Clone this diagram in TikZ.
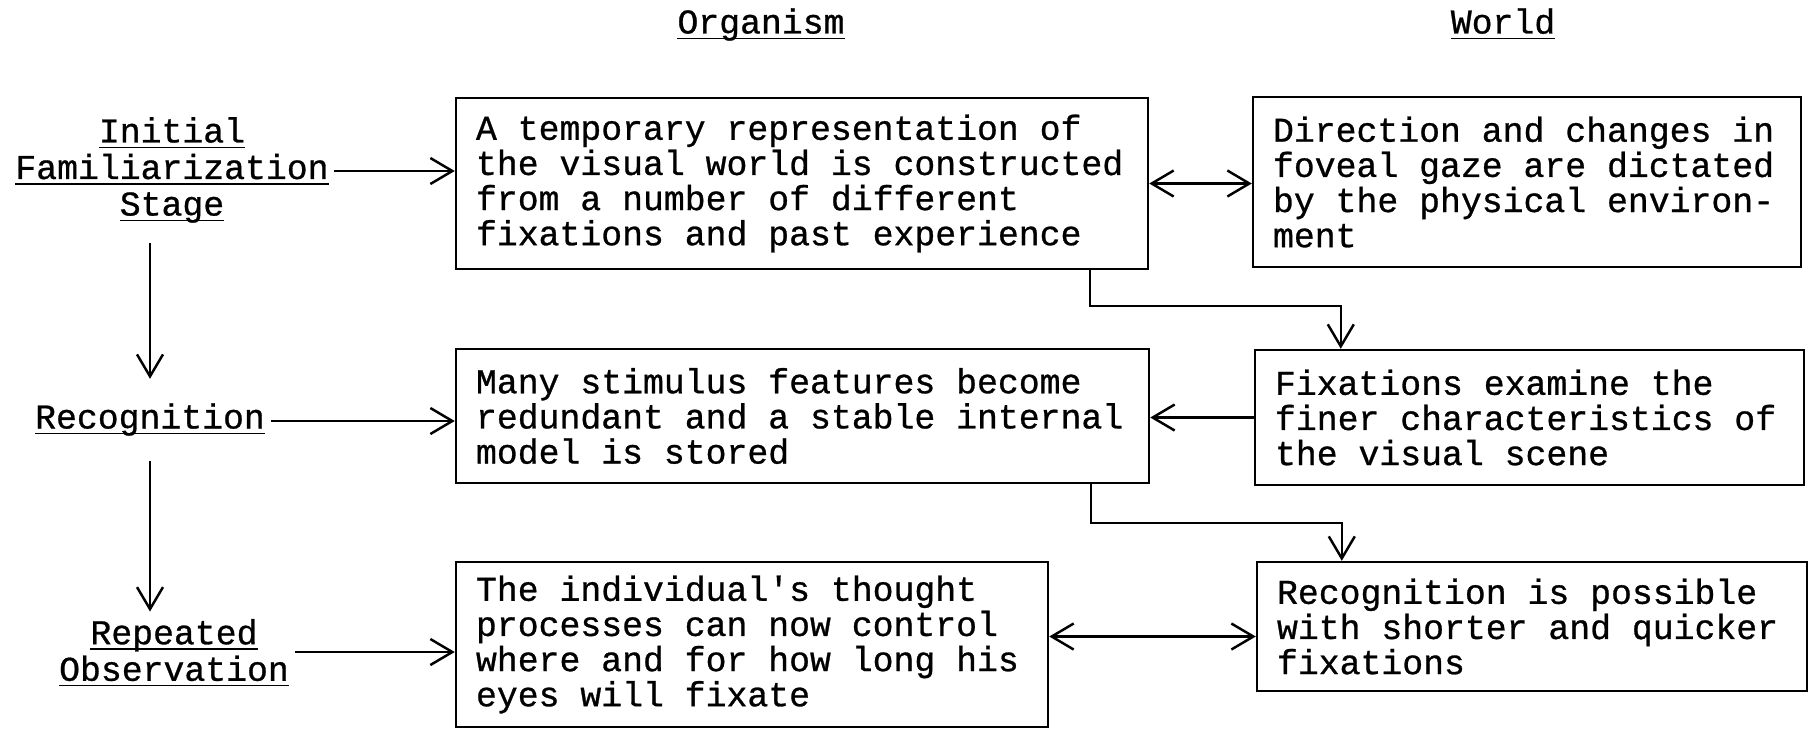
\documentclass[tikz,border=0pt]{standalone}
\usepackage{fontspec}
\setmainfont{Liberation Mono}[FakeBold=0.8]
\usetikzlibrary{arrows.meta,positioning}
\newcommand{\ulabel}[1]{\underline{\smash{#1}}}
\newcommand{\boxfont}{\fontsize{9.9}{10}\selectfont}

\begin{document}
\begin{tikzpicture}[
  box/.style={rectangle, draw, line width=0.7pt, align=flush left, inner xsep=2mm, inner ysep=0pt, font=\boxfont},
  arrow/.style={-{Straight Barb[length=2.2mm,width=2.6mm]}, line width=0.7pt},
  twoway/.style={{Straight Barb[length=2.2mm,width=2.6mm]}-{Straight Barb[length=2.2mm,width=2.6mm]}, line width=0.7pt},
  stagetext/.style={align=center, inner sep=0.5mm, font=\fontsize{9.9}{10.4}\selectfont},
]
\useasboundingbox (0,0) rectangle (18.11,7.29);

% === COLUMN HEADINGS ===
\node[stagetext] (horg) at (7.61,6.92) {\ulabel{Organism}};
\node[stagetext] (hwld) at (15.03,6.92) {\ulabel{World}};

% === STAGES ===
\node[stagetext] (init) at (1.72,5.465) {\ulabel{Initial}\\\ulabel{Familiarization}\\\ulabel{Stage}};
\node[stagetext] (recog) at (1.50,2.97) {\ulabel{Recognition}};
\node[stagetext] (rep) at (1.74,0.63) {\ulabel{Repeated}\\\ulabel{Observation}};
\coordinate (initout) at ([yshift=1.15mm]init.east);
\coordinate (recogout) at ([yshift=1.1mm]recog.east);
\coordinate (repout) at ([yshift=1.4mm]rep.east);

% === ORGANISM ===
\node[box, text width=6.52cm, minimum height=1.71cm] (org1) at (8.02,5.455)
  {A temporary representation of\\the visual world is constructed\\from a number of different\\fixations and past experience};
\node[box, text width=6.53cm, minimum height=1.34cm] (org2) at (8.025,3.13)
  {Many stimulus features become\\redundant and a stable internal\\model is stored};
\node[box, text width=5.52cm, minimum height=1.65cm] (org3) at (7.52,0.845)
  {The individual\textquotesingle s thought\\processes can now control\\where and for how long his\\eyes will fixate};

% === WORLD ===
\node[box, text width=5.08cm, minimum height=1.70cm] (wld1) at (15.27,5.47)
  {Direction and changes in\\foveal gaze are dictated\\by the physical environ-\\ment};
\node[box, text width=5.09cm, minimum height=1.35cm] (wld2) at (15.295,3.115)
  {Fixations examine the\\finer characteristics of\\the visual scene};
\node[box, text width=5.10cm, minimum height=1.29cm] (wld3) at (15.32,1.025)
  {Recognition is possible\\with shorter and quicker\\fixations};
\coordinate (wld3in) at ([yshift=-1mm]wld3.west);

\draw[arrow] (initout) -- (initout -| org1.west);
\draw[arrow] (recogout) -- (recogout -| org2.west);
\draw[arrow] (repout) -- (repout -| org3.west);
\draw[arrow, shorten <=1.5mm, shorten >=4.4mm] (init.south -| recog.north) -- (recog.north);
\draw[arrow, shorten <=2mm, shorten >=2.7mm] (recog.south) -- (recog.south |- rep.north);

\draw[twoway] (org1.east) -- (org1.east -| wld1.west);
\draw[arrow] (wld2.west) -- (wld2.west -| org2.east);
\draw[twoway] (org3.east |- wld3in) -- (wld3in);

\draw[arrow] ([xshift=-5.9mm]org1.south east) -- ++(0,-0.36) -| ([xshift=8.7mm]wld2.north west);
\draw[arrow] ([xshift=-5.9mm]org2.south east) -- ++(0,-0.39) -| ([xshift=8.6mm]wld3.north west);
\end{tikzpicture}
\end{document}
